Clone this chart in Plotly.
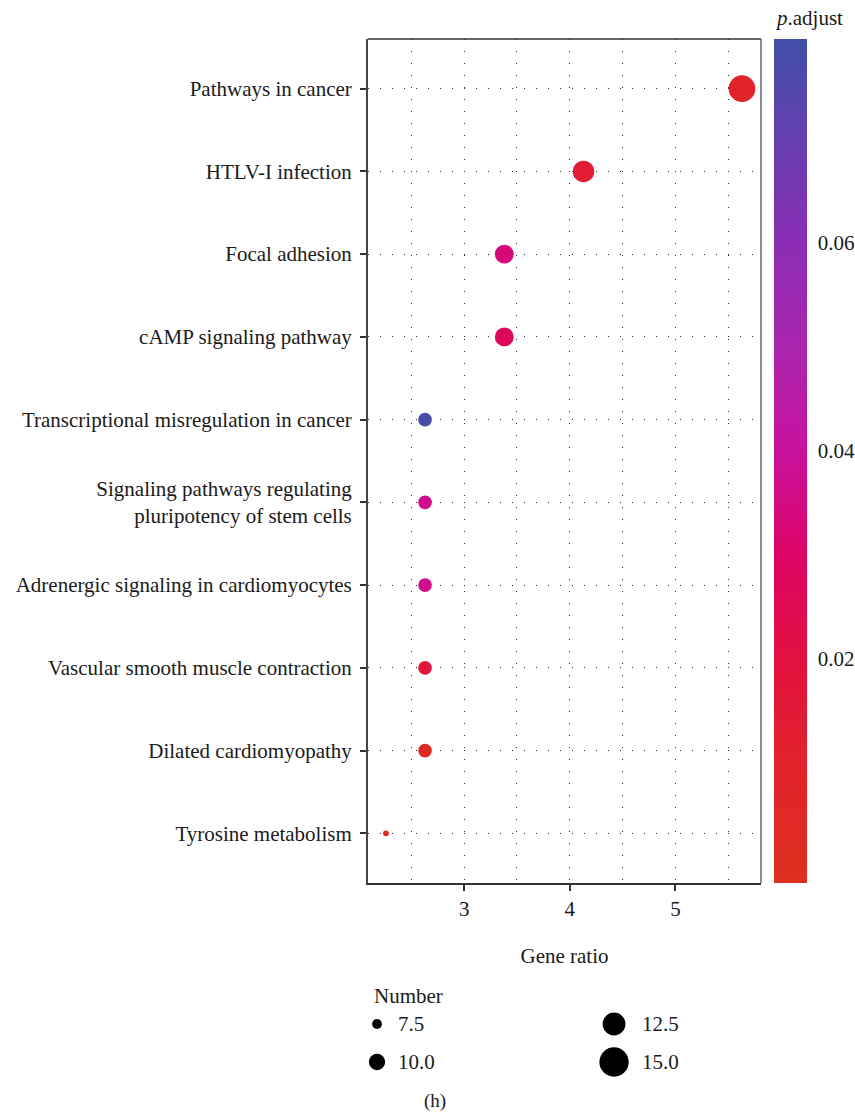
import plotly.graph_objects as go

# ---- data ----
pathways = [
    "Pathways in cancer",
    "HTLV-I infection",
    "Focal adhesion",
    "cAMP signaling pathway",
    "Transcriptional misregulation in cancer",
    "Signaling pathways regulating<br>pluripotency of stem cells",
    "Adrenergic signaling in cardiomyocytes",
    "Vascular smooth muscle contraction",
    "Dilated cardiomyopathy",
    "Tyrosine metabolism",
]
gene_ratio = [5.63, 4.13, 3.38, 3.38, 2.63, 2.63, 2.63, 2.63, 2.63, 2.26]
number = [14, 12, 11, 11, 9, 9, 9, 9, 9, 6]
p_adjust = [0.009, 0.014, 0.033, 0.027, 0.0775, 0.037, 0.037, 0.018, 0.003, 0.0005]

size_breaks = [7.5, 10.0, 12.5, 15.0]
size_labels = ["7.5", "10.0", "12.5", "15.0"]
color_ticks = [0.02, 0.04, 0.06]
color_tick_labels = ["0.02", "0.04", "0.06"]

# ---- styling ----
FONT = "Liberation Serif"
FS = 21
TXT = "#1a1a1a"
GRID = dict(gridcolor="#2a2a2a", gridwidth=1.3, griddash="1.3px,10.7px")


def dot_size(n):
    return 2.6 * n - 9.7


pmin, pmax = min(p_adjust), max(p_adjust)
half_bin = (pmax - pmin) / 38.0
cmin, cmax = pmin - half_bin, pmax + half_bin

colorscale = [
    [0.000, "#DD2F1E"],
    [0.142, "#E1232B"],
    [0.265, "#E2113F"],
    [0.389, "#DD0466"],
    [0.512, "#C8129E"],
    [0.636, "#AA25AD"],
    [0.759, "#8A2EB5"],
    [0.883, "#6640AF"],
    [1.000, "#3F4FA8"],
]

W, H = 855, 1113
ML, MR, MT, MB = 368, 94, 39, 0
PW, PH = W - ML - MR, H - MT - MB

fig = go.Figure()

fig.add_trace(go.Scatter(
    x=gene_ratio, y=pathways, mode="markers",
    marker=dict(
        size=[dot_size(n) for n in number],
        color=p_adjust, cmin=cmin, cmax=cmax, colorscale=colorscale,
        line=dict(width=0), opacity=1,
        colorbar=dict(
            tickvals=color_ticks, ticktext=color_tick_labels,
            tickfont=dict(family=FONT, size=FS, color=TXT),
            ticks="outside", ticklen=7, tickwidth=1,
            tickcolor="rgba(255,255,255,0)",
            thickness=33, thicknessmode="pixels",
            len=844, lenmode="pixels",
            x=(774 - ML) / PW, xanchor="left", xpad=0,
            y=1, yanchor="top", ypad=0,
            outlinewidth=0,
        ),
    ),
    showlegend=False, hoverinfo="skip",
))

# size legend (own hidden axes)
cols = [i // 2 for i in range(len(size_breaks))]
rows = [i % 2 for i in range(len(size_breaks))]
leg_sizes = [dot_size(v) for v in size_breaks]
fig.add_trace(go.Scatter(
    x=cols, y=rows, mode="markers", xaxis="x2", yaxis="y2",
    marker=dict(size=leg_sizes, color="black", opacity=1, line=dict(width=0)),
    showlegend=False, hoverinfo="skip",
))
col_max = {}
for c, s in zip(cols, leg_sizes):
    col_max[c] = max(col_max.get(c, 0), s)

annotations = []
for c, r, lab in zip(cols, rows, size_labels):
    annotations.append(dict(
        x=c, y=r, xref="x2", yref="y2", text=lab, showarrow=False,
        xanchor="left", yanchor="middle", xshift=col_max[c] / 2 + 11,
        font=dict(family=FONT, size=FS, color=TXT)))
annotations.append(dict(
    x=(372 - ML) / PW, y=(H - 996) / PH, xref="paper", yref="paper",
    text="Number", showarrow=False, xanchor="left", yanchor="middle",
    font=dict(family=FONT, size=FS, color=TXT)))
annotations.append(dict(
    x=(435 - ML) / PW, y=(H - 1101) / PH, xref="paper", yref="paper",
    text="(h)", showarrow=False, xanchor="center", yanchor="middle",
    font=dict(family=FONT, size=FS - 2, color=TXT)))
annotations.append(dict(
    x=(773 - ML) / PW, y=(H - 18) / PH, xref="paper", yref="paper",
    text="<i>p</i>.adjust", showarrow=False, xanchor="left", yanchor="middle",
    font=dict(family=FONT, size=FS, color=TXT)))

fig.update_layout(
    width=W, height=H, autosize=False,
    margin=dict(l=ML, r=MR, t=MT, b=MB, pad=0),
    paper_bgcolor="white", plot_bgcolor="white",
    font=dict(family=FONT, size=FS, color=TXT),
    xaxis=dict(
        domain=[0, 1], range=[2.09, 5.81],
        tickmode="linear", tick0=0, dtick=1,
        showgrid=True, **GRID,
        minor=dict(dtick=0.5, tick0=0, showgrid=True, ticks="", **GRID),
        showline=True, linecolor="#333", linewidth=2,
        ticks="outside", ticklen=6, tickwidth=1.5, tickcolor="#333",
        tickfont=dict(family=FONT, size=FS, color=TXT),
        title=dict(text="Gene ratio", standoff=28,
                   font=dict(family=FONT, size=FS, color=TXT)),
        zeroline=False, anchor="y",
    ),
    yaxis=dict(
        domain=[(H - 883) / PH, 1],
        type="category", categoryorder="array", categoryarray=pathways,
        range=[len(pathways) - 0.4, -0.6],
        showgrid=True, **GRID,
        showline=True, linecolor="#444", linewidth=2,
        ticks="outside", ticklen=6, tickwidth=1.5, tickcolor="#333",
        ticklabelstandoff=4,
        tickfont=dict(family=FONT, size=FS, color=TXT),
        zeroline=False, anchor="x",
    ),
    xaxis2=dict(domain=[0, 1], range=[-0.038, 1.62], visible=False,
                anchor="y2", fixedrange=True),
    yaxis2=dict(domain=[(H - 1090) / PH, (H - 1000) / PH],
                range=[1.737, -0.632], visible=False, anchor="x2",
                fixedrange=True),
    annotations=annotations,
    shapes=[
        dict(type="line", xref="x domain", yref="y domain",
             x0=0, x1=1, y0=1, y1=1, line=dict(color="#333", width=1.3)),
        dict(type="line", xref="x domain", yref="y domain",
             x0=1, x1=1, y0=0, y1=1, line=dict(color="#666", width=1.5)),
    ],
)

fig.write_html("out.html")
